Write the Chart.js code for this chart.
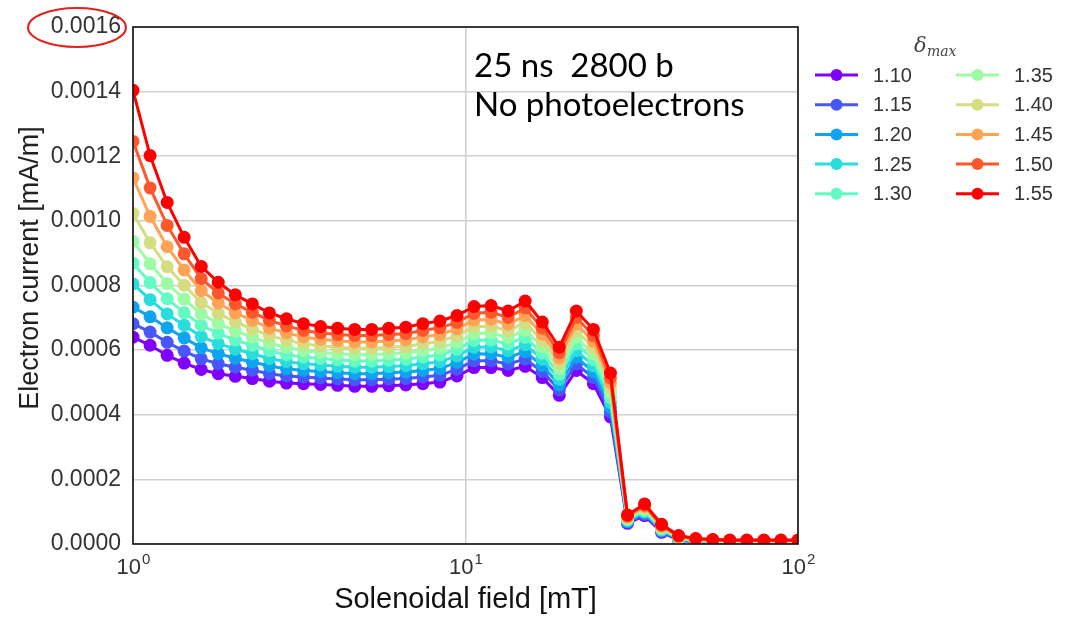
<!DOCTYPE html>
<html>
<head>
<meta charset="utf-8">
<script src="https://cdn.jsdelivr.net/npm/chart.js@4"></script>
<style>
 html, body { margin: 0; background: #fff; }
 canvas { display: block; }
</style>
</head>
<body>
<canvas id="chart" width="1069" height="619"></canvas>
<script>
// Solenoidal field [mT], 40 log-spaced points from 1 to 100
var fieldMT = [1, 1.1257, 1.2668, 1.4251, 1.6040, 1.8047, 2.0309, 2.2855, 2.5719, 2.8943,
 3.2571, 3.6654, 4.1246, 4.6416, 5.2233, 5.8780, 6.6147, 7.4438, 8.3768, 9.4267,
 10.608, 11.938, 13.434, 15.118, 17.013, 19.145, 21.544, 24.245, 27.283, 30.703,
 34.551, 38.881, 43.755, 49.239, 55.410, 62.355, 70.170, 78.965, 88.862, 100];

// electron current [mA/m], one list per delta_max
var d110 = [6.40e-4,6.15e-4,5.84e-4,5.60e-4,5.40e-4,5.27e-4,5.19e-4,5.12e-4,5.04e-4,4.98e-4,4.96e-4,4.94e-4,4.91e-4,4.88e-4,4.88e-4,4.90e-4,4.92e-4,4.96e-4,5.01e-4,5.20e-4,5.46e-4,5.46e-4,5.37e-4,5.50e-4,5.15e-4,4.60e-4,5.37e-4,4.96e-4,3.93e-4,0.64e-4,0.88e-4,0.36e-4,0.12e-4,0.06e-4,0.04e-4,0.03e-4,0.03e-4,0.03e-4,0.03e-4,0.03e-4];
var d115 = [6.82e-4,6.56e-4,6.24e-4,5.97e-4,5.73e-4,5.58e-4,5.47e-4,5.38e-4,5.27e-4,5.20e-4,5.17e-4,5.14e-4,5.11e-4,5.08e-4,5.08e-4,5.10e-4,5.12e-4,5.17e-4,5.22e-4,5.41e-4,5.67e-4,5.67e-4,5.57e-4,5.72e-4,5.34e-4,4.77e-4,5.57e-4,5.15e-4,4.08e-4,0.67e-4,0.92e-4,0.39e-4,0.14e-4,0.07e-4,0.05e-4,0.04e-4,0.04e-4,0.04e-4,0.04e-4,0.04e-4];
var d120 = [7.33e-4,7.03e-4,6.69e-4,6.38e-4,6.07e-4,5.89e-4,5.75e-4,5.63e-4,5.51e-4,5.42e-4,5.37e-4,5.34e-4,5.30e-4,5.27e-4,5.27e-4,5.30e-4,5.32e-4,5.37e-4,5.43e-4,5.62e-4,5.88e-4,5.89e-4,5.78e-4,5.95e-4,5.53e-4,4.93e-4,5.78e-4,5.33e-4,4.23e-4,0.70e-4,0.96e-4,0.42e-4,0.15e-4,0.08e-4,0.06e-4,0.05e-4,0.05e-4,0.05e-4,0.05e-4,0.05e-4];
var d125 = [8.05e-4,7.56e-4,7.12e-4,6.77e-4,6.42e-4,6.20e-4,6.03e-4,5.89e-4,5.74e-4,5.64e-4,5.58e-4,5.54e-4,5.50e-4,5.47e-4,5.47e-4,5.49e-4,5.52e-4,5.58e-4,5.64e-4,5.82e-4,6.09e-4,6.10e-4,5.98e-4,6.17e-4,5.72e-4,5.10e-4,5.98e-4,5.52e-4,4.38e-4,0.73e-4,1.00e-4,0.44e-4,0.17e-4,0.10e-4,0.07e-4,0.06e-4,0.06e-4,0.06e-4,0.06e-4,0.06e-4];
var d130 = [8.69e-4,8.09e-4,7.59e-4,7.16e-4,6.77e-4,6.52e-4,6.31e-4,6.15e-4,5.98e-4,5.86e-4,5.79e-4,5.74e-4,5.70e-4,5.66e-4,5.66e-4,5.69e-4,5.72e-4,5.79e-4,5.85e-4,6.03e-4,6.30e-4,6.31e-4,6.19e-4,6.40e-4,5.91e-4,5.26e-4,6.19e-4,5.71e-4,4.53e-4,0.76e-4,1.04e-4,0.47e-4,0.18e-4,0.11e-4,0.08e-4,0.07e-4,0.07e-4,0.07e-4,0.07e-4,0.07e-4];
var d135 = [9.37e-4,8.67e-4,8.06e-4,7.58e-4,7.12e-4,6.83e-4,6.59e-4,6.40e-4,6.21e-4,6.09e-4,5.99e-4,5.93e-4,5.89e-4,5.86e-4,5.86e-4,5.89e-4,5.91e-4,5.99e-4,6.06e-4,6.24e-4,6.51e-4,6.53e-4,6.39e-4,6.62e-4,6.11e-4,5.43e-4,6.39e-4,5.89e-4,4.69e-4,0.78e-4,1.08e-4,0.50e-4,0.20e-4,0.12e-4,0.10e-4,0.08e-4,0.08e-4,0.08e-4,0.08e-4,0.08e-4];
var d140 = [10.23e-4,9.32e-4,8.58e-4,8.01e-4,7.47e-4,7.14e-4,6.87e-4,6.66e-4,6.45e-4,6.31e-4,6.20e-4,6.13e-4,6.09e-4,6.06e-4,6.06e-4,6.09e-4,6.11e-4,6.20e-4,6.27e-4,6.45e-4,6.72e-4,6.74e-4,6.60e-4,6.85e-4,6.30e-4,5.59e-4,6.60e-4,6.08e-4,4.84e-4,0.81e-4,1.12e-4,0.53e-4,0.22e-4,0.13e-4,0.11e-4,0.09e-4,0.09e-4,0.09e-4,0.09e-4,0.09e-4];
var d145 = [11.33e-4,10.14e-4,9.20e-4,8.48e-4,7.84e-4,7.46e-4,7.15e-4,6.92e-4,6.68e-4,6.53e-4,6.41e-4,6.33e-4,6.29e-4,6.25e-4,6.25e-4,6.28e-4,6.31e-4,6.41e-4,6.48e-4,6.66e-4,6.93e-4,6.95e-4,6.80e-4,7.07e-4,6.49e-4,5.76e-4,6.80e-4,6.27e-4,4.99e-4,0.84e-4,1.16e-4,0.55e-4,0.23e-4,0.14e-4,0.12e-4,0.10e-4,0.10e-4,0.10e-4,0.10e-4,0.10e-4];
var d150 = [12.46e-4,11.02e-4,9.86e-4,8.98e-4,8.21e-4,7.77e-4,7.43e-4,7.17e-4,6.92e-4,6.75e-4,6.61e-4,6.53e-4,6.48e-4,6.45e-4,6.45e-4,6.48e-4,6.51e-4,6.61e-4,6.69e-4,6.86e-4,7.14e-4,7.17e-4,7.01e-4,7.30e-4,6.68e-4,5.92e-4,7.01e-4,6.45e-4,5.14e-4,0.87e-4,1.20e-4,0.58e-4,0.24e-4,0.16e-4,0.13e-4,0.11e-4,0.11e-4,0.11e-4,0.11e-4,0.11e-4];
var d155 = [14.04e-4,12.02e-4,10.57e-4,9.49e-4,8.59e-4,8.10e-4,7.71e-4,7.43e-4,7.15e-4,6.97e-4,6.82e-4,6.73e-4,6.68e-4,6.64e-4,6.64e-4,6.68e-4,6.71e-4,6.82e-4,6.90e-4,7.07e-4,7.35e-4,7.38e-4,7.21e-4,7.52e-4,6.87e-4,6.09e-4,7.21e-4,6.64e-4,5.29e-4,0.90e-4,1.24e-4,0.61e-4,0.26e-4,0.17e-4,0.14e-4,0.12e-4,0.12e-4,0.12e-4,0.12e-4,0.12e-4];

var deltaLabels = ['1.10', '1.15', '1.20', '1.25', '1.30', '1.35', '1.40', '1.45', '1.50', '1.55'];
var seriesData = [d110, d115, d120, d125, d130, d135, d140, d145, d150, d155];
var colorPalette = ['#8000ff', '#4757fb', '#0ea4f0', '#2adddd', '#63fbc3', '#9cfba4', '#d4dd80', '#ffa457', '#ff572c', '#ff0000']; // rainbow

var yTicks = [0, 0.0002, 0.0004, 0.0006, 0.0008, 0.0010, 0.0012, 0.0014, 0.0016];
var xTickValues = [1, 10, 100];
var xTickExponents = ['0', '1', '2'];
var noteLines = ['25 ns  2800 b', 'No photoelectrons'];
var yTitle = 'Electron current [mA/m]';

var datasets = [];
seriesData.forEach(function (arr, i) {
 datasets.push({
  label: deltaLabels[i],
  data: fieldMT.map(function (x, j) { return { x: x, y: arr[j] }; }),
  borderColor: colorPalette[i],
  backgroundColor: colorPalette[i],
  pointBackgroundColor: colorPalette[i],
  pointBorderWidth: 0,
  pointRadius: 6.5,
  borderWidth: 3,
  tension: 0,
  clip: 0,
  order: seriesData.length - 1 - i // red on top
 });
});

// frame, note text, legend, y title, x tick labels and the red ellipse
var extras = {
 id: 'extras',
 afterDatasetsDraw: function (chart) {
  var ctx = chart.ctx, a = chart.chartArea;
  ctx.save();
  ctx.strokeStyle = '#111';
  ctx.lineWidth = 1.6;
  ctx.strokeRect(a.left, a.top, a.right - a.left, a.bottom - a.top);

  ctx.fillStyle = '#000';
  ctx.font = '33px Lato';
  ctx.textBaseline = 'alphabetic';
  ctx.textAlign = 'left';
  ctx.fillText(noteLines[0], 474, 77);
  ctx.fillText(noteLines[1], 474, 116);
  ctx.restore();
 },
 afterDraw: function (chart) {
  var ctx = chart.ctx;
  ctx.save();

  // x tick labels 10^n
  ctx.fillStyle = '#333';
  ctx.textBaseline = 'alphabetic';
  ctx.textAlign = 'left';
  xTickValues.forEach(function (v, i) {
   var px = chart.scales.x.getPixelForValue(v);
   ctx.font = '22px "Liberation Sans"';
   var wBase = ctx.measureText('10').width;
   ctx.font = '15px "Liberation Sans"';
   var wExp = ctx.measureText(xTickExponents[i]).width;
   var x0 = px - (wBase + wExp) / 2;
   ctx.font = '22px "Liberation Sans"';
   ctx.fillText('10', x0, 574);
   ctx.font = '15px "Liberation Sans"';
   ctx.fillText(xTickExponents[i], x0 + wBase + 1, 564);
  });

  // y axis title
  ctx.save();
  ctx.translate(31, 268);
  ctx.rotate(-Math.PI / 2);
  ctx.textAlign = 'center';
  ctx.textBaseline = 'middle';
  ctx.fillStyle = '#222';
  ctx.font = '27px "Liberation Sans"';
  ctx.fillText(yTitle, 0, 0);
  ctx.restore();

  // legend title delta_max
  ctx.fillStyle = '#444';
  ctx.textBaseline = 'alphabetic';
  ctx.font = 'italic 21px "DejaVu Serif"';
  ctx.fillText('\u03b4', 914, 52);
  ctx.font = 'italic 14px "DejaVu Serif"';
  ctx.fillText('max', 927, 56);

  deltaLabels.forEach(function (lab, i) {
   var col = i < 5 ? 0 : 1, row = i % 5;
   var x0 = col ? 956 : 815, y = 75 + row * 29.7;
   ctx.strokeStyle = colorPalette[i];
   ctx.lineWidth = 3;
   ctx.beginPath();
   ctx.moveTo(x0, y);
   ctx.lineTo(x0 + 43, y);
   ctx.stroke();
   ctx.fillStyle = colorPalette[i];
   ctx.beginPath();
   ctx.arc(x0 + 21.5, y, 6, 0, Math.PI * 2);
   ctx.fill();
   ctx.fillStyle = '#333';
   ctx.font = '20px "Liberation Sans"';
   ctx.textBaseline = 'middle';
   ctx.fillText(lab, x0 + 58, y + 1);
  });

  // red ellipse round the top tick label
  ctx.strokeStyle = '#e3231f';
  ctx.lineWidth = 2;
  ctx.beginPath();
  ctx.ellipse(77, 27.5, 49, 19.5, 0, 0, Math.PI * 2);
  ctx.stroke();
  ctx.restore();
 }
};

var ctx = document.getElementById('chart').getContext('2d');
var chartInstance = new Chart(ctx, {
 type: 'line',
 data: { datasets: datasets },
 plugins: [extras],
 options: {
  responsive: false,
  devicePixelRatio: 1,
  animation: false,
  layout: { padding: { top: 27, right: 271, left: 0, bottom: 0 } },
  plugins: {
   legend: { display: false },
   tooltip: { enabled: false }
  },
  scales: {
   x: {
    type: 'logarithmic',
    min: 1,
    max: 100,
    afterBuildTicks: function (axis) {
     axis.ticks = xTickValues.map(function (v) { return { value: v }; });
    },
    afterFit: function (axis) { axis.height = 75; },
    grid: { color: '#d0d0d0', lineWidth: 1.6, drawTicks: false },
    border: { display: false },
    ticks: {
     autoSkip: false,
     maxRotation: 0,
     callback: function () { return ''; }
    },
    title: {
     display: true,
     text: 'Solenoidal field [mT]',
     color: '#111',
     font: { family: 'Liberation Sans', size: 29 },
     padding: { top: 0, bottom: 2 }
    }
   },
   y: {
    min: 0,
    max: 0.0016,
    afterBuildTicks: function (axis) {
     axis.ticks = yTicks.map(function (v) { return { value: v }; });
    },
    afterFit: function (axis) { axis.width = 133; },
    grid: { color: '#d0d0d0', lineWidth: 1.6, drawTicks: false },
    border: { display: false },
    ticks: {
     padding: 12,
     color: '#333',
     font: { family: 'Liberation Sans', size: 23 },
     callback: function (v) { return v.toFixed(4); }
    }
   }
  }
 }
});
</script>
</body>
</html>
